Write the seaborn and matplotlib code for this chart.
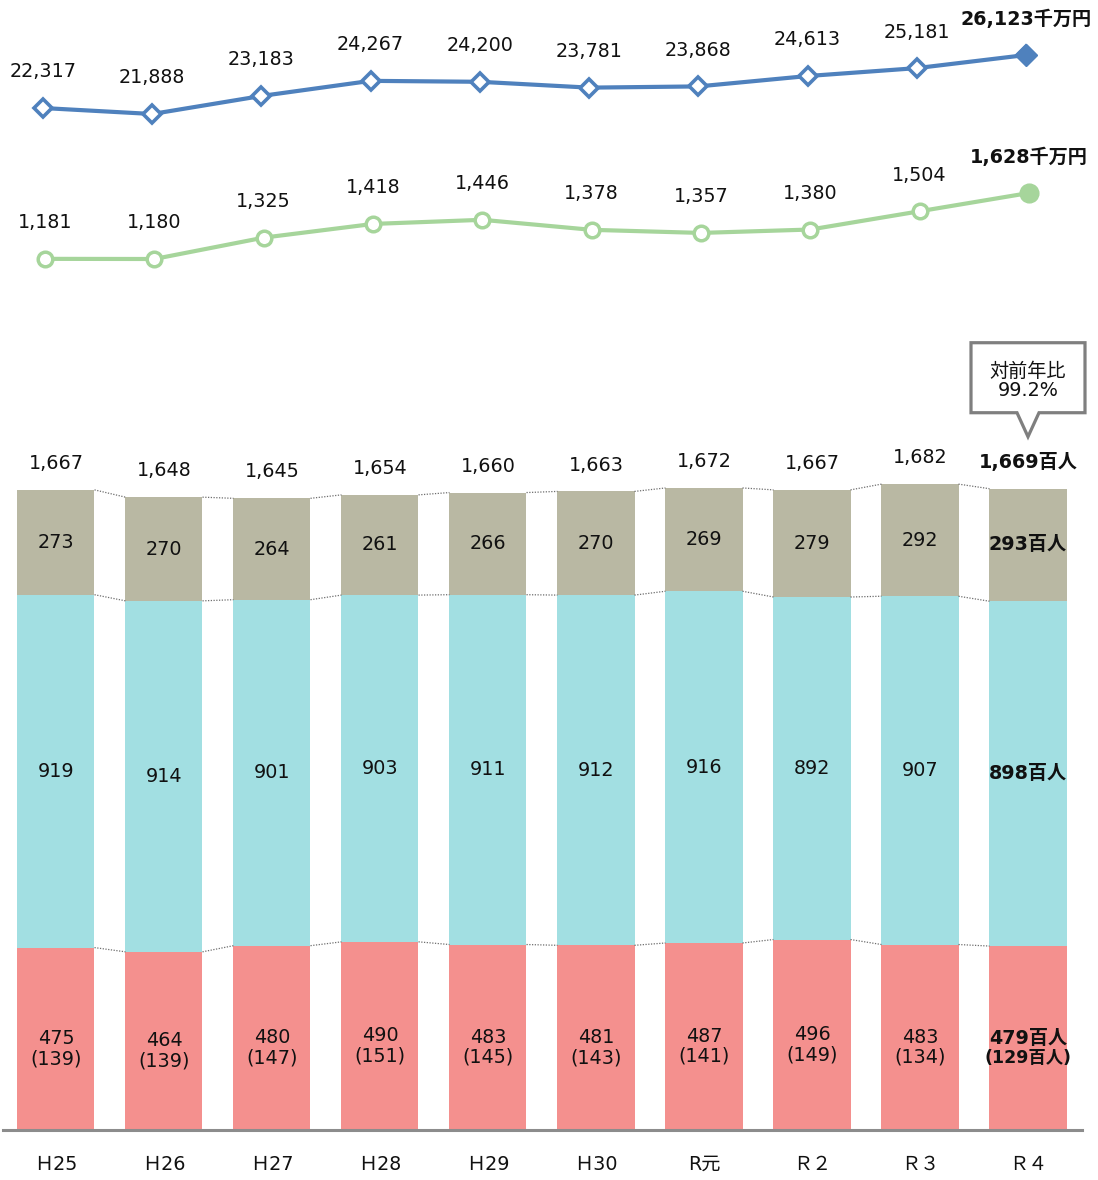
import numpy as np
import pandas as pd
import matplotlib
matplotlib.use("Agg")
import matplotlib.pyplot as plt
from matplotlib.patches import Polygon
import seaborn as sns

# ---- data -------------------------------------------------------------
years = ["Ｈ25", "Ｈ26", "Ｈ27", "Ｈ28", "Ｈ29", "Ｈ30", "R元", "Ｒ２", "Ｒ３", "Ｒ４"]
sales = [22317, 21888, 23183, 24267, 24200, 23781, 23868, 24613, 25181, 26123]   # 千万円
income = [1181, 1180, 1325, 1418, 1446, 1378, 1357, 1380, 1504, 1628]           # 千万円
seg_bottom = [475, 464, 480, 490, 483, 481, 487, 496, 483, 479]                  # 百人
seg_bottom_sub = [139, 139, 147, 151, 145, 143, 141, 149, 134, 129]              # 百人 (内数)
seg_middle = [919, 914, 901, 903, 911, 912, 916, 892, 907, 898]                  # 百人
seg_top = [273, 270, 264, 261, 266, 270, 269, 279, 292, 293]                     # 百人
totals = [1667, 1648, 1645, 1654, 1660, 1663, 1672, 1667, 1682, 1669]            # 百人
yoy_label = "対前年比"
yoy_value = "99.2%"

# ---- style ------------------------------------------------------------
sns.set_style("white")
plt.rcParams["font.family"] = ["DejaVu Sans", "Noto Sans CJK JP"]
plt.rcParams["axes.unicode_minus"] = False

C_BOTTOM = "#F4908E"
C_MIDDLE = "#A2DFE2"
C_TOP = "#B9B8A3"
C_SALES = "#4F81BD"
C_INCOME = "#A6D59B"
TXT = "#111111"
FS = 13.8

W, H = 1098, 1180
fig = plt.figure(figsize=(W / 100, H / 100), dpi=100)


def frame(l, t, r, b):
    return [l / W, 1 - b / H, (r - l) / W, (b - t) / H]


area = frame(3, 0, 1082, 1130)

# ---- stacked bars -----------------------------------------------------
ax = fig.add_axes(area)
df = pd.DataFrame({
    "year": years,
    "bottom": seg_bottom,
    "middle": seg_middle,
    "top": seg_top,
})
lvl1 = np.array(seg_bottom, dtype=float)
lvl2 = lvl1 + np.array(seg_middle)
lvl3 = lvl2 + np.array(seg_top)
BW = 0.713

sns.barplot(data=df, x="year", y="bottom", color=C_BOTTOM, saturation=1,
            width=BW, errorbar=None, ax=ax, linewidth=0)
sns.barplot(data=df, x="year", y="middle", color=C_MIDDLE, saturation=1,
            width=BW, errorbar=None, ax=ax, linewidth=0, bottom=lvl1)
sns.barplot(data=df, x="year", y="top", color=C_TOP, saturation=1,
            width=BW, errorbar=None, ax=ax, linewidth=0, bottom=lvl2)

x = np.arange(len(years))
YMAX = 1130 / 0.384
ax.set_xlim(-0.4907, 9.5)
ax.set_ylim(0, YMAX)
PXY = YMAX / 1130          # data units per pixel (vertical)
PXX = 1 / 108              # data units per pixel (horizontal)

# dotted connectors between neighbouring bars
for lev in (lvl1, lvl2, lvl3):
    for i in range(len(years) - 1):
        ax.plot([i + BW / 2, i + 1 - BW / 2], [lev[i], lev[i + 1]],
                color="#6e6e6e", lw=0.9, ls=(0, (1, 1.2)), zorder=1)

last = len(years) - 1
for i in x:
    bold = i == last
    fw = "bold" if bold else "normal"
    unit = "百人" if bold else ""
    ax.text(i, lvl2[i] + seg_top[i] / 2, f"{seg_top[i]:,}{unit}", ha="center",
            va="center", fontsize=FS, fontweight=fw, color=TXT)
    ax.text(i, lvl1[i] + seg_middle[i] / 2, f"{seg_middle[i]:,}{unit}", ha="center",
            va="center", fontsize=FS, fontweight=fw, color=TXT)
    ax.text(i, seg_bottom[i] / 2, f"{seg_bottom[i]:,}{unit}", ha="center",
            va="center", fontsize=FS, fontweight=fw, color=TXT)
    ax.text(i, seg_bottom[i] / 2 - 20 * PXY, f"({seg_bottom_sub[i]:,}{unit})",
            ha="center", va="center", fontsize=FS - 1.3 if bold else FS,
            fontweight=fw, color=TXT)
    ax.annotate(f"{totals[i]:,}{unit}", (i, lvl3[i]), xytext=(0, 19),
                textcoords="offset points", ha="center", va="center",
                fontsize=FS, fontweight=fw, color=TXT)

# callout above the latest bar
tip = lvl3[last] + 52 * PXY
b_bot = tip + 24 * PXY
b_top = tip + 94 * PXY
hw = 57 * PXX
pw = 11 * PXX
cx = last
callout = Polygon([(cx - hw, b_top), (cx + hw, b_top), (cx + hw, b_bot),
                   (cx + pw, b_bot), (cx, tip), (cx - pw, b_bot), (cx - hw, b_bot)],
                  closed=True, facecolor="white", edgecolor="#7F7F7F", lw=2.3,
                  joinstyle="miter", clip_on=False, zorder=5)
ax.add_patch(callout)
ax.text(cx, tip + 65.5 * PXY, yoy_label, ha="center", va="center",
        fontsize=FS, color=TXT, zorder=6)
ax.text(cx, tip + 46 * PXY, yoy_value, ha="center", va="center",
        fontsize=FS, color=TXT, zorder=6)

ax.set_xticks(x)
ax.set_xticklabels(years, fontsize=FS, color=TXT)
ax.tick_params(axis="x", length=0, pad=18)
ax.set_yticks([])
ax.set_xlabel("")
ax.set_ylabel("")
for s in ("left", "right", "top"):
    ax.spines[s].set_visible(False)
ax.spines["bottom"].set_color("#8C8C8C")
ax.spines["bottom"].set_linewidth(2.2)

# ---- 売上 line --------------------------------------------------------
ax_s = fig.add_axes(area)
ax_s.set_facecolor("none")
sns.lineplot(x=x, y=sales, ax=ax_s, color=C_SALES, lw=3, marker="D",
             markersize=8.8, markerfacecolor="white", markeredgecolor=C_SALES,
             markeredgewidth=2.6, zorder=3)
ax_s.plot(x[-1], sales[-1], marker="D", ms=11, color=C_SALES, zorder=4)
ax_s.set_xlim(-0.366, 9.513)
ax_s.set_ylim(-51040, 30071)
for i in x:
    bold = i == last
    ax_s.annotate(f"{sales[i]:,}" + ("千万円" if bold else ""), (i, sales[i]),
                  xytext=(0, 26), textcoords="offset points", ha="center",
                  va="center", fontsize=FS, color=TXT,
                  fontweight="bold" if bold else "normal")
ax_s.axis("off")

# ---- 所得 line --------------------------------------------------------
ax_p = fig.add_axes(area)
ax_p.set_facecolor("none")
sns.lineplot(x=x, y=income, ax=ax_p, color=C_INCOME, lw=3, marker="o",
             markersize=10.5, markerfacecolor="white", markeredgecolor=C_INCOME,
             markeredgewidth=2.5, zorder=3)
ax_p.plot(x[-1], income[-1], marker="o", ms=13.5, color=C_INCOME, zorder=4)
ax_p.set_xlim(-0.384, 9.485)
ax_p.set_ylim(-4732, 2938)
for i in x:
    bold = i == last
    ax_p.annotate(f"{income[i]:,}" + ("千万円" if bold else ""), (i, income[i]),
                  xytext=(0, 26), textcoords="offset points", ha="center",
                  va="center", fontsize=FS, color=TXT,
                  fontweight="bold" if bold else "normal")
ax_p.axis("off")

fig.savefig("out.png", dpi=100)
